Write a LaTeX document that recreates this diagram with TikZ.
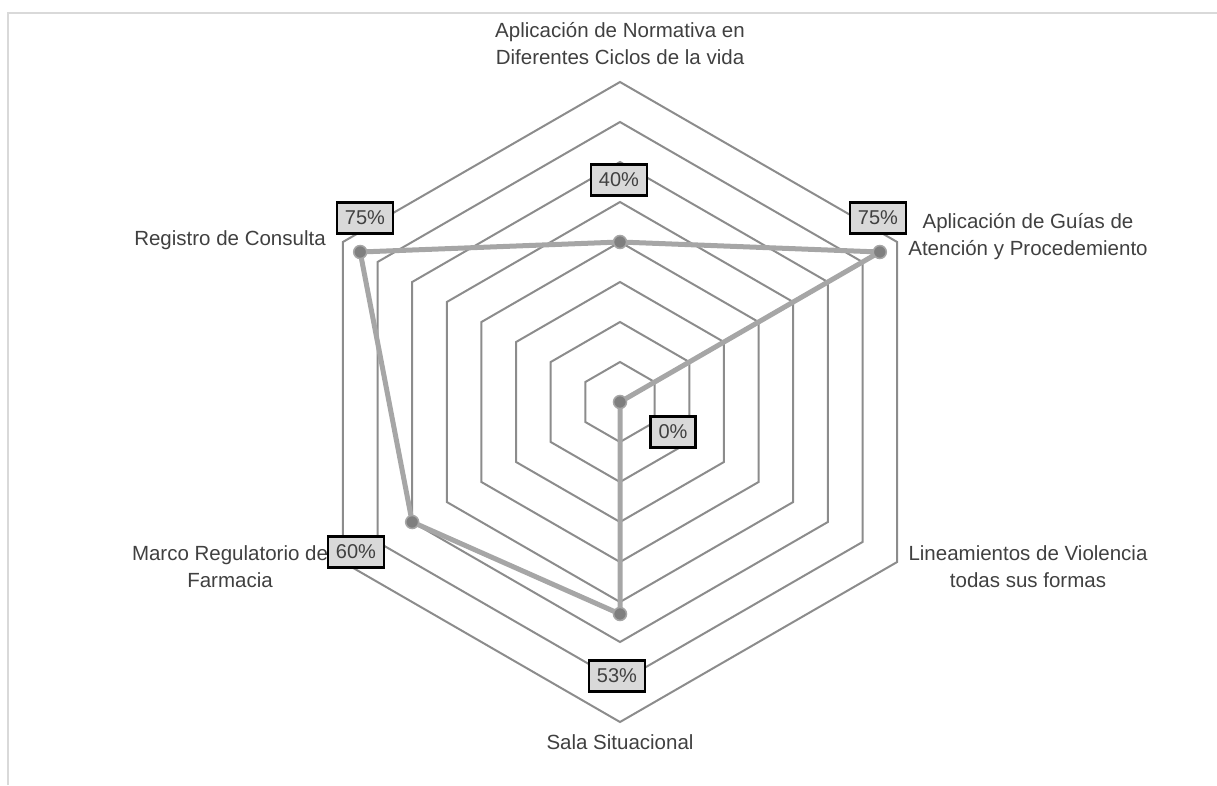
\documentclass[tikz,border=0pt]{standalone}
\usepackage{fontspec}
\setmainfont{Liberation Sans}
\usetikzlibrary{calc}
\definecolor{gridgray}{HTML}{8C8C8C}
\definecolor{seriesgray}{HTML}{A6A6A6}
\definecolor{markgray}{HTML}{7F7F7F}
\definecolor{boxgray}{HTML}{D9D9D9}
\definecolor{framegray}{HTML}{D9D9D9}
\definecolor{textgray}{HTML}{404040}
\begin{document}
\begin{tikzpicture}[x=1pt,y=-1pt,
  ring/.style={draw=gridgray,line width=2pt,line join=miter},
  series/.style={draw=seriesgray,line width=5pt,line join=round},
  marker/.style={circle,fill=markgray,draw=seriesgray,line width=1.5pt,minimum size=13pt,inner sep=0pt},
  vallabel/.style={draw=black,fill=boxgray,line width=2.2pt,text=textgray,
    font=\fontsize{20}{22}\selectfont,inner xsep=8pt,minimum height=31pt},
  axislabel/.style={align=center,text=textgray,font=\fontsize{20.5}{27}\selectfont,inner sep=0pt}]
\useasboundingbox (0,0) rectangle (1217,785);
% outer frame (top and left edges)
\draw[framegray,line width=2.5pt] (8,785) -- (8,13) -- (1217,13);
% centre of the chart
\coordinate (O) at (620,402);
% grid rings, 10% each, outer ring = 80%
\foreach \r in {40,80,...,320}
  \draw[ring] ($(O)+(-90:\r)$) -- ($(O)+(-30:\r)$) -- ($(O)+(30:\r)$)
    -- ($(O)+(90:\r)$) -- ($(O)+(150:\r)$) -- ($(O)+(210:\r)$) -- cycle;
% data points (100% = 400)
\coordinate (p1) at ($(O)+(-90:160)$);
\coordinate (p2) at ($(O)+(-30:300)$);
\coordinate (p3) at (O);
\coordinate (p4) at ($(O)+(90:212)$);
\coordinate (p5) at ($(O)+(150:240)$);
\coordinate (p6) at ($(O)+(210:300)$);
\draw[series] (p1) -- (p2) -- (p3) -- (p4) -- (p5) -- (p6) -- cycle;
\foreach \p in {p1,p2,p3,p4,p5,p6}
  \node[marker] (m\p) at (\p) {};
% value labels
\node[vallabel] (v1) at (619,180) {40\%};
\node[vallabel] (v2) at (878,218) {75\%};
\node[vallabel] (v3) at (673,432) {0\%};
\node[vallabel] (v4) at (617,676) {53\%};
\node[vallabel] (v5) at (356,552) {60\%};
\node[vallabel] (v6) at (365,218) {75\%};
% axis labels
\node[axislabel] (a1) at (620,44) {Aplicación de Normativa en\\Diferentes Ciclos de la vida};
\node[axislabel] (a2) at (1028,237) {Aplicación de Guías de\\Atención y Procedemiento};
\node[axislabel] (a3) at (1028,567) {Lineamientos de Violencia\\todas sus formas};
\node[axislabel] (a4) at (620,742) {Sala Situacional};
\node[axislabel] (a5) at (230,567) {Marco Regulatorio de\\Farmacia};
\node[axislabel] (a6) at (230,240) {Registro de Consulta};
\end{tikzpicture}
\end{document}
